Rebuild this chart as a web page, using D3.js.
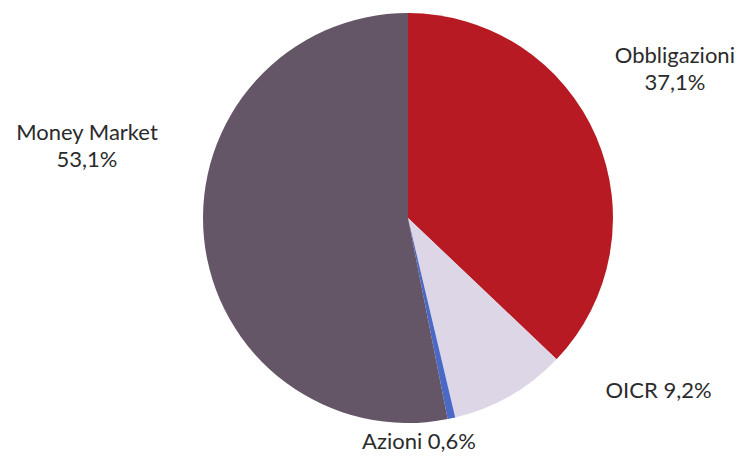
<!DOCTYPE html>
<html>
<head>
<meta charset="utf-8">
<script src="https://cdn.jsdelivr.net/npm/d3@7"></script>
<style>
  html, body { margin: 0; padding: 0; background: #ffffff; }
  svg text { font-family: Lato, "Open Sans", sans-serif; fill: #2b2b2b; }
</style>
</head>
<body>
<svg id="chart" width="739" height="459"></svg>
<script>
// Portfolio composition by asset class (percent)
const categories = ["Obbligazioni", "OICR", "Azioni", "Money Market"];
const shares = [37.1, 9.2, 0.6, 53.1];
const shareLabels = ["37,1%", "9,2%", "0,6%", "53,1%"];
const sliceColors = ["#b71a23", "#dcd6e6", "#4a68c6", "#655667"];

// Label text layout: two-line labels for the large slices, one line for the small ones
const labelLines = [
  [categories[0], shareLabels[0]],
  [categories[1] + " " + shareLabels[1]],
  [categories[2] + " " + shareLabels[2]],
  [categories[3], shareLabels[3]]
];
// Distance of each label from the centre (multiples of the radius) and angular nudge (radians)
const labelRadius = [1.496, 1.48, 1.085, 1.607];
const labelNudge = [-0.11, -0.45, 0.164, 0.324];

const width = 739, height = 459;
const cx = 408, cy = 218, radius = 205;

const svg = d3.select("#chart");
const g = svg.append("g").attr("transform", `translate(${cx},${cy})`);

const pie = d3.pie().sort(null).value(d => d);
const arcs = pie(shares);
const arc = d3.arc().innerRadius(0).outerRadius(radius);

g.selectAll("path.slice")
  .data(arcs)
  .join("path")
  .attr("class", "slice")
  .attr("d", arc)
  .attr("fill", (d, i) => sliceColors[i]);

const fontSize = 22, lineGap = 27;
arcs.forEach((d, i) => {
  const mid = (d.startAngle + d.endAngle) / 2 + labelNudge[i];
  const r = radius * labelRadius[i];
  const x = Math.sin(mid) * r;
  const y = -Math.cos(mid) * r;
  const lines = labelLines[i];
  const t = g.append("text")
    .attr("text-anchor", "middle")
    .attr("font-size", fontSize)
    .attr("x", x)
    .attr("y", y - (lines.length - 1) * lineGap / 2 + fontSize * 0.42);
  lines.forEach((s, k) => {
    t.append("tspan").attr("x", x).attr("dy", k === 0 ? 0 : lineGap).text(s);
  });
});
</script>
</body>
</html>
